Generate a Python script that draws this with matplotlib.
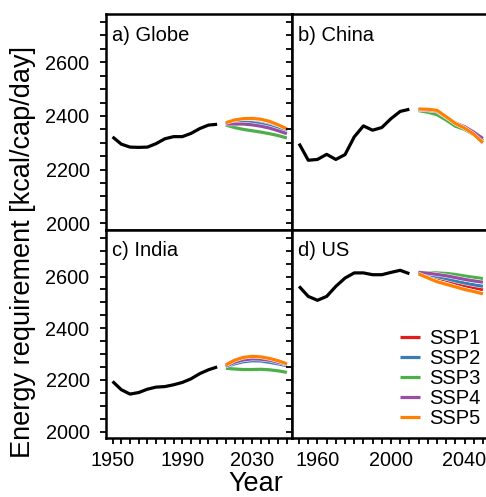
import matplotlib
matplotlib.use("Agg")
import matplotlib.pyplot as plt
import matplotlib.ticker as tck
import matplotlib.patheffects as pe
import numpy as np

plt.rcParams['font.family'] = ['Liberation Sans', 'DejaVu Sans']

# historical years and scenario years
hist_years = [1950, 1955, 1960, 1965, 1970, 1975, 1980, 1985, 1990, 1995, 2000, 2005, 2010]
ssp_years = [2015, 2020, 2025, 2030, 2035, 2040, 2045, 2050]

ssp_names = ['SSP1', 'SSP2', 'SSP3', 'SSP4', 'SSP5']
ssp_colors = ['#E41A1C', '#377EB8', '#4DAF4A', '#984EA3', '#FF7F00']

# a) Globe
globe_hist = [2322, 2295, 2284, 2283, 2284, 2297, 2315, 2323, 2323, 2335, 2353, 2366, 2369]
globe_ssp1 = [2372, 2376, 2378, 2377, 2372, 2365, 2355, 2343]
globe_ssp2 = [2372, 2375, 2377, 2375, 2370, 2362, 2352, 2340]
globe_ssp3 = [2366, 2357, 2350, 2345, 2340, 2334, 2327, 2318]
globe_ssp4 = [2370, 2370, 2370, 2367, 2362, 2355, 2345, 2334]
globe_ssp5 = [2375, 2385, 2390, 2391, 2388, 2380, 2367, 2352]

# b) China
china_hist = [2297, 2235, 2238, 2257, 2238, 2256, 2322, 2363, 2347, 2357, 2390, 2417, 2425]
china_ssp1 = [2425, 2423, 2418, 2394, 2370, 2353, 2333, 2305]
china_ssp2 = [2424, 2421, 2415, 2392, 2368, 2352, 2334, 2308]
china_ssp3 = [2420, 2414, 2405, 2385, 2362, 2350, 2330, 2308]
china_ssp4 = [2424, 2422, 2418, 2396, 2374, 2360, 2340, 2316]
china_ssp5 = [2426, 2425, 2421, 2397, 2372, 2355, 2332, 2300]

# c) India
india_hist = [2194, 2162, 2145, 2151, 2164, 2172, 2174, 2181, 2190, 2204, 2224, 2239, 2250]
india_ssp1 = [2255, 2270, 2280, 2283, 2282, 2278, 2270, 2260]
india_ssp2 = [2250, 2262, 2270, 2274, 2273, 2268, 2262, 2255]
india_ssp3 = [2245, 2242, 2240, 2240, 2241, 2239, 2235, 2229]
india_ssp4 = [2253, 2268, 2277, 2281, 2280, 2276, 2268, 2260]
india_ssp5 = [2258, 2276, 2287, 2291, 2289, 2283, 2274, 2262]

# d) US
us_hist = [2562, 2523, 2508, 2523, 2562, 2594, 2614, 2614, 2607, 2607, 2616, 2624, 2611]
us_ssp1 = [2614, 2605, 2595, 2586, 2575, 2565, 2557, 2549]
us_ssp2 = [2615, 2608, 2600, 2592, 2583, 2575, 2568, 2562]
us_ssp3 = [2616, 2615, 2614, 2612, 2608, 2602, 2597, 2592]
us_ssp4 = [2616, 2613, 2608, 2603, 2596, 2589, 2583, 2578]
us_ssp5 = [2610, 2595, 2580, 2570, 2560, 2550, 2542, 2533]

panels = [
    ('a) Globe', globe_hist, [globe_ssp1, globe_ssp2, globe_ssp3, globe_ssp4, globe_ssp5]),
    ('b) China', china_hist, [china_ssp1, china_ssp2, china_ssp3, china_ssp4, china_ssp5]),
    ('c) India', india_hist, [india_ssp1, india_ssp2, india_ssp3, india_ssp4, india_ssp5]),
    ('d) US', us_hist, [us_ssp1, us_ssp2, us_ssp3, us_ssp4, us_ssp5]),
]

fig = plt.figure(figsize=(4.86, 4.97), dpi=100)

# axes boxes: left column narrower, right column runs off the figure edge
rects = [
    [0.218, 0.5372, 0.383, 0.4346],
    [0.601, 0.5372, 0.404, 0.4346],
    [0.218, 0.1187, 0.383, 0.4185],
    [0.601, 0.1187, 0.404, 0.4185],
]

for i, (title, hist, ssps) in enumerate(panels):
    ax = fig.add_axes(rects[i])
    ax.plot(hist_years, hist, color='black', lw=2.3, solid_capstyle='butt', zorder=3)
    for name, col, vals in zip(ssp_names, ssp_colors, ssps):
        ax.plot(ssp_years, vals, color=col, lw=2.3, label=name, solid_capstyle='butt',
                path_effects=[pe.Stroke(linewidth=3.0, foreground='white'), pe.Normal()])

    ax.set_xlim(1946.2, 2053)
    ax.set_ylim(1975, 2780)

    ax.xaxis.set_major_locator(tck.MultipleLocator(5))
    ax.yaxis.set_major_locator(tck.MultipleLocator(50))
    col = i % 2
    row = i // 2
    xlab_years = [1950, 1990, 2030] if col == 0 else [1960, 2000, 2040]
    ax.xaxis.set_major_formatter(tck.FuncFormatter(
        lambda v, p, ly=xlab_years: str(int(round(v))) if int(round(v)) in ly else ''))
    ax.yaxis.set_major_formatter(tck.FuncFormatter(
        lambda v, p: str(int(round(v))) if int(round(v)) % 200 == 0 else ''))

    ax.tick_params(direction='out', length=4.3, width=1.3, labelsize=14.3)
    ax.tick_params(axis='y', pad=7.5)
    ax.tick_params(axis='x', pad=5)
    if row == 0:
        ax.tick_params(labelbottom=False)
    if col == 1:
        ax.tick_params(labelleft=False)
    for s in ax.spines.values():
        s.set_linewidth(1.8)

    ax.text(0.03, 0.9, title, transform=ax.transAxes, fontsize=14.5, va='center', ha='left')

    if i == 3:
        ax.legend(loc='lower right', frameon=False, fontsize=14.5, handlelength=1.0,
                  handletextpad=0.45, labelspacing=0.05, borderaxespad=0.0,
                  bbox_to_anchor=(1.0, 0.01))

fig.text(0.047, 0.493, 'Energy requirement [kcal/cap/day]', rotation=90,
         ha='center', va='center', fontsize=19.5)
fig.text(0.527, 0.0, 'Year', ha='center', va='bottom', fontsize=19.5)

fig.savefig('out.png', dpi=100)
